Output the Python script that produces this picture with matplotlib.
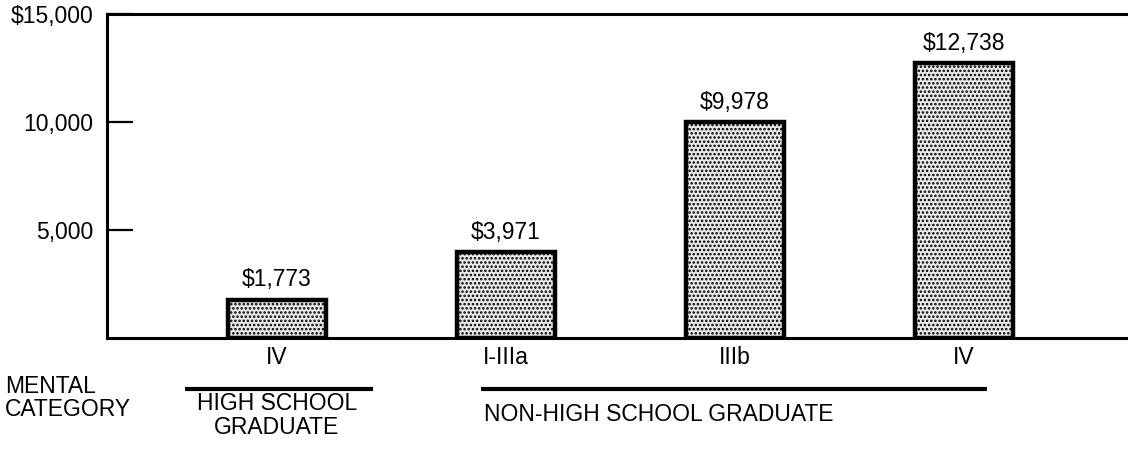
import matplotlib
matplotlib.use("Agg")
import matplotlib.pyplot as plt
import matplotlib.transforms as mtransforms
import numpy as np

# Chart data
categories = ["IV", "I-IIIa", "IIIb", "IV"]
costs = [1773, 3971, 9978, 12738]
value_labels = ["$1,773", "$3,971", "$9,978", "$12,738"]
y_ticks = [5000, 10000, 15000]
y_tick_labels = ["5,000", "10,000", "$15,000"]
groups = ["HIGH SCHOOL\nGRADUATE", "NON-HIGH SCHOOL GRADUATE"]

plt.rcParams['font.family'] = ['Liberation Sans', 'DejaVu Sans']
plt.rcParams['hatch.linewidth'] = 1.2

W, H = 1128, 453
fig = plt.figure(figsize=(W / 100, H / 100), dpi=100)
# axes box in pixels: left 107, top 14, bottom 338, running off the right edge
ax = fig.add_axes([107 / W, (H - 338) / H, (W - 107) / W, (338 - 14) / H])

index = np.arange(len(categories))
bars = ax.bar(index, costs, 0.43, facecolor="#e8e8e8", edgecolor="black",
              linewidth=3.2, hatch="....", zorder=3)

for x, v, lab in zip(index, costs, value_labels):
    ax.annotate(lab, (x, v), xytext=(0, 6), textcoords="offset points",
                ha="center", va="bottom", fontsize=16.5)

ax.set_xlim(-0.742, 3.716)
ax.set_ylim(0, 15000)
ax.set_yticks(y_ticks)
ax.set_yticklabels(y_tick_labels, fontsize=16.5)
ax.set_xticks(index)
ax.set_xticklabels(categories, fontsize=16.5)

ax.spines["right"].set_visible(False)
for s in ["left", "top", "bottom"]:
    ax.spines[s].set_linewidth(2.2)
ax.tick_params(axis="y", direction="in", length=19, width=1.6, pad=10)
ax.tick_params(axis="x", length=0, pad=6)

# group bars and labels under the axis
trans = mtransforms.blended_transform_factory(ax.transData, ax.transAxes)
group_spans = [(-0.40, 0.42), (0.89, 3.10)]
for (x0, x1) in group_spans:
    ax.plot([x0, x1], [-0.158, -0.158], color="black", linewidth=3,
            transform=trans, clip_on=False, solid_capstyle="butt")

ax.text(0.0, -0.24, groups[0], transform=trans, ha="center", va="center",
        fontsize=16.5, linespacing=1.05)
ax.text(0.905, -0.235, groups[1], transform=trans, ha="left", va="center",
        fontsize=16.5)
fig.text(5 / W, 1 - 398 / H, "MENTAL\nCATEGORY", ha="left", va="center",
         fontsize=16.5, linespacing=1.05)

fig.savefig("out.png", dpi=100)
